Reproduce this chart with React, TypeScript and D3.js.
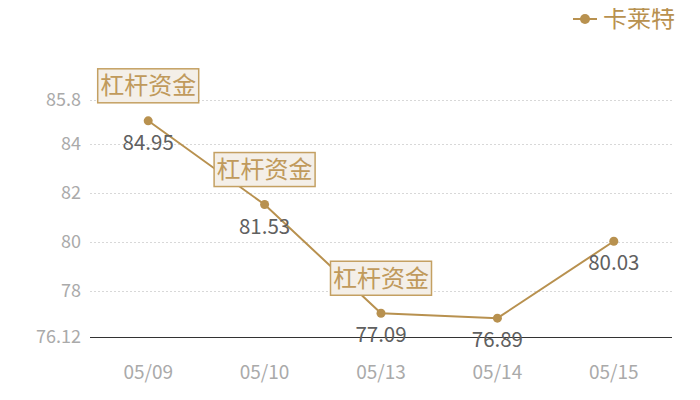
import React, { useEffect, useRef } from 'react';
import * as d3 from 'd3';

const dates = ['05/09', '05/10', '05/13', '05/14', '05/15'];
const values = [84.95, 81.53, 77.09, 76.89, 80.03];
const flagged = [true, true, true, false, false];
const yTicks = [76.12, 78, 80, 82, 84, 85.8];
const seriesName = '卡莱特';
const flagText = '杠杆资金';

const FONT = '"Noto Sans CJK SC", "Noto Sans", sans-serif';
const GOLD = '#b8914f';

const App: React.FC = () => {
  const svgRef = useRef<SVGSVGElement>(null);

  useEffect(() => {
    if (!svgRef.current) return;
    const width = 700;
    const height = 400;
    const margin = { top: 100, right: 28, bottom: 63, left: 90 };

    const root = d3.select(svgRef.current);
    root.selectAll('*').remove();
    root.attr('width', width).attr('height', height).attr('viewBox', `0 0 ${width} ${height}`)
      .style('font-family', FONT);

    const x = d3.scaleBand<string>()
      .domain(dates)
      .range([margin.left, width - margin.right]);
    const cx = (d: string) => (x(d) as number) + x.bandwidth() / 2;

    const y = d3.scaleLinear()
      .domain([76.12, 85.8])
      .range([height - margin.bottom, margin.top]);
    const crisp = (v: number) => Math.round(y(v)) + 0.5;

    // Grid
    root.append('g')
      .selectAll('line')
      .data(yTicks.slice(1))
      .enter()
      .append('line')
      .attr('x1', margin.left)
      .attr('x2', width - margin.right)
      .attr('y1', d => crisp(d))
      .attr('y2', d => crisp(d))
      .attr('stroke', '#d8d8d8')
      .attr('stroke-width', 1)
      .attr('stroke-dasharray', '2,2');

    // Y labels
    root.append('g')
      .selectAll('text')
      .data(yTicks)
      .enter()
      .append('text')
      .attr('x', margin.left - 9)
      .attr('y', d => y(d))
      .attr('dy', '0.35em')
      .attr('text-anchor', 'end')
      .attr('fill', '#aaa')
      .style('font-size', '18px')
      .text(d => String(d));

    // Axis line
    root.append('line')
      .attr('x1', margin.left)
      .attr('x2', width - margin.right)
      .attr('y1', crisp(76.12))
      .attr('y2', crisp(76.12))
      .attr('stroke', '#333')
      .attr('stroke-width', 1);

    // X labels
    root.append('g')
      .selectAll('text')
      .data(dates)
      .enter()
      .append('text')
      .attr('x', d => cx(d))
      .attr('y', 372)
      .attr('dy', '0.35em')
      .attr('text-anchor', 'middle')
      .attr('fill', '#aaa')
      .style('font-size', '19px')
      .text(d => d);

    const pts = dates.map((d, i) => ({ d, v: values[i], f: flagged[i] }));

    // Line
    const line = d3.line<{ d: string; v: number }>()
      .x(p => cx(p.d))
      .y(p => y(p.v));
    root.append('path')
      .datum(pts)
      .attr('d', line)
      .attr('fill', 'none')
      .attr('stroke', GOLD)
      .attr('stroke-width', 2);

    root.append('g')
      .selectAll('circle')
      .data(pts)
      .enter()
      .append('circle')
      .attr('cx', p => cx(p.d))
      .attr('cy', p => y(p.v))
      .attr('r', 4.5)
      .attr('fill', GOLD);

    // Value labels
    root.append('g')
      .selectAll('text')
      .data(pts)
      .enter()
      .append('text')
      .attr('x', p => cx(p.d))
      .attr('y', p => y(p.v) + 22)
      .attr('dy', '0.35em')
      .attr('text-anchor', 'middle')
      .attr('fill', '#606060')
      .style('font-size', '20.5px')
      .text(p => p.v.toFixed(2));

    // Flag boxes
    const flags = root.append('g')
      .selectAll('g')
      .data(pts.filter(p => p.f))
      .enter()
      .append('g')
      .attr('transform', p => `translate(${cx(p.d)},${y(p.v) - 18})`);
    flags.append('rect')
      .attr('x', -50.5)
      .attr('y', -34)
      .attr('width', 101)
      .attr('height', 34)
      .attr('fill', '#f4efe8')
      .attr('stroke', '#c4a062')
      .attr('stroke-width', 1.5);
    flags.append('text')
      .attr('x', 0)
      .attr('y', -17)
      .attr('dy', '0.35em')
      .attr('text-anchor', 'middle')
      .attr('fill', '#c09a5c')
      .style('font-size', '24px')
      .text(flagText);

    // Legend
    const lg = root.append('g');
    lg.append('line')
      .attr('x1', 573).attr('x2', 597)
      .attr('y1', 19).attr('y2', 19)
      .attr('stroke', GOLD).attr('stroke-width', 2);
    lg.append('circle').attr('cx', 585).attr('cy', 19).attr('r', 5).attr('fill', GOLD);
    lg.append('text')
      .attr('x', 603)
      .attr('y', 19)
      .attr('dy', '0.35em')
      .attr('fill', GOLD)
      .style('font-size', '24px')
      .text(seriesName);
  }, []);

  return <svg ref={svgRef} style={{ display: 'block', margin: '-8px' }} />;
};

export default App;
